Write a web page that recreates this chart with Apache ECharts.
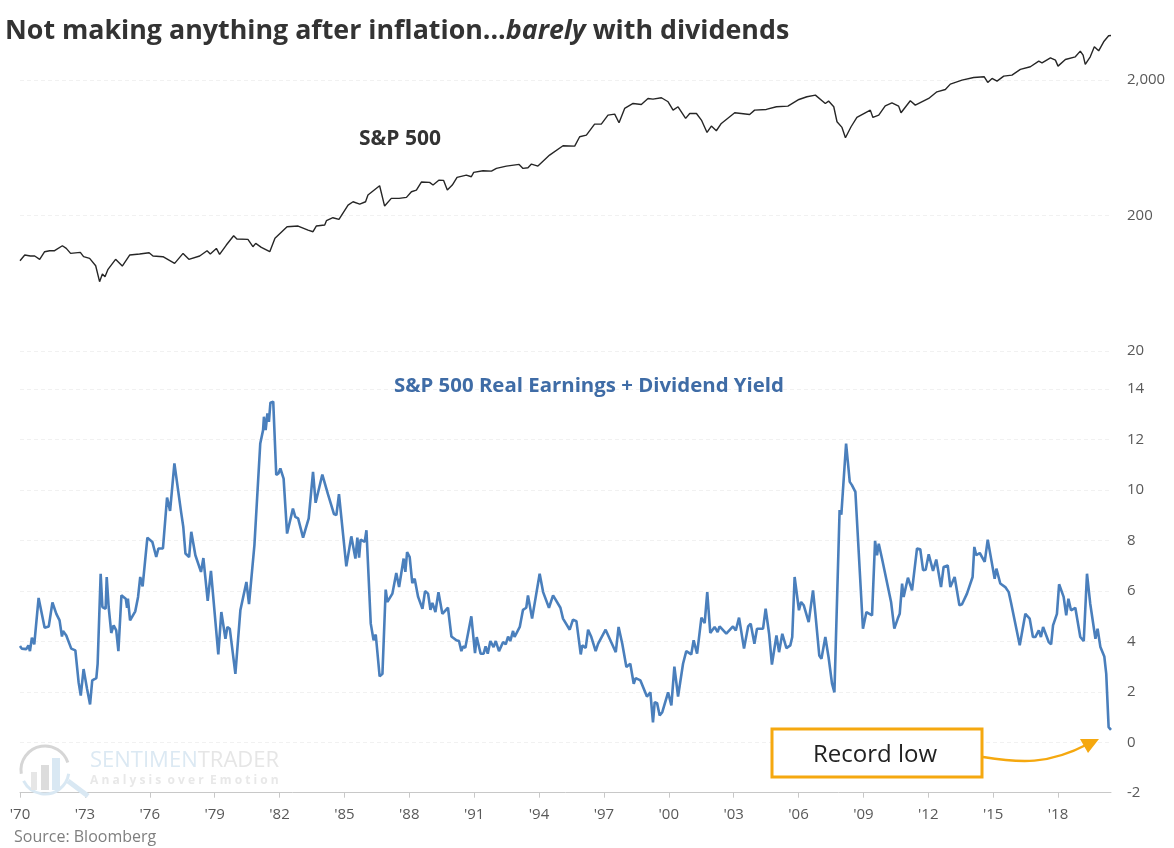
<!DOCTYPE html>
<html>
<head>
<meta charset="utf-8">
<title>S&amp;P 500 real earnings</title>
<script src="https://cdn.jsdelivr.net/npm/echarts@6/dist/echarts.min.js"></script>
<style>
html,body{margin:0;padding:0;background:#fff;}
#main{width:1174px;height:848px;}
</style>
</head>
<body>
<div id="main"></div>
<script>
// x values are years since 1970
var xTicks = [0,3,6,9,12,15,18,21,24,27,30,33,36,39,42,45,48];
var xTickLabels = ["'70","'73","'76","'79","'82","'85","'88","'91","'94","'97","'00","'03","'06","'09","'12","'15","'18"];
var priceTicks = [20,200,2000];

var spxYears = [0,.22,.29,.48,.68,.91,1.14,1.37,1.60,1.96,2.14,2.34,2.79,2.94,3.22,3.50,3.68,3.81,3.93,4.07,4.42,4.73,5.07,5.53,5.97,6.15,6.61,7.15,7.54,7.81,8.31,8.65,8.80,9.08,9.23,9.54,9.88,10.03,10.54,10.77,10.90,11.16,11.55,11.79,12.35,12.86,13.32,13.55,13.70,14.09,14.17,14.47,14.75,15.17,15.40,15.71,15.98,16.09,16.63,16.86,17.17,17.53,
17.87,18.10,18.33,18.56,18.94,19.10,19.38,19.59,19.76,19.99,20.21,20.64,20.87,20.98,21.41,21.80,22.03,22.49,23.08,23.26,23.49,23.65,23.95,24.49,25.11,25.65,25.88,26.19,26.57,26.88,27.19,27.50,27.70,27.96,28.35,28.73,29.04,29.27,29.66,29.97,30.20,30.43,30.78,30.97,31.28,31.51,31.77,31.97,32.20,32.43,33.05,33.74,33.97,34.51,34.98,35.51,36.02,
36.39,36.78,37.24,37.39,37.63,37.78,38.01,38.17,38.43,38.70,39.32,39.44,39.71,40.01,40.32,40.63,40.74,41.17,41.40,42.02,42.40,42.79,43.02,43.56,44.10,44.59,44.75,44.95,45.18,45.49,45.87,46.26,46.72,47.11,47.26,47.65,47.88,48.00,48.34,48.42,48.80,49.03,49.16,49.26,49.49,49.68,49.88,50.11,50.34,50.45];
var spxValues = [92.7,102,104.9,100.3,100.3,94.8,107.9,109.8,109.8,119.5,114.2,104.9,106.7,99.2,96.4,85.1,64.9,73.9,70.6,80,94.8,84.6,102,103.8,106.1,100.3,99.2,88.6,104.9,94.8,100.3,109.8,103.8,114.2,103.2,120.9,141.6,133.8,133.1,117.5,124.4,116.2,107.9,135.4,165,166.9,155.9,151.6,166.9,169.7,182.7,192.2,186.9,238.3,252.2,242.4,252.2,282.4,330.9,234.3,266.9,266.9,
271.5,298.9,307.5,352.2,350.2,334.7,364.3,362.2,307.5,334.7,381.2,396.6,385.5,414.9,426.8,424.4,444.1,462,475.3,444.1,449.2,478,462,556.9,652.5,648.8,760.2,782,942.5,942.5,1098,1117,964,1230,1338,1316,1457,1441,1474,1377,1195,1265,1038,1129,1129,1009,818,911,842,953,1142,1110,1195,1209,1265,1279,1432,
1499,1542,1338,1393,1265,981,891,747,901,1055,1195,1055,1098,1286,1354,1279,1142,1401,1301,1457,1631,1697,1858,1989,2081,2104,1911,2046,1955,2128,2165,2384,2494,2745,2669,2905,2793,2522,2824,2745,2955,3253,3040,2595,2955,3502,3272,3812,4220,4244];

var realYears = [0,.08,.29,.39,.46,.55,.66,.86,1.14,1.33,1.50,1.68,1.83,1.94,1.99,2.14,2.37,2.56,2.71,2.81,2.94,3.10,3.24,3.34,3.53,3.59,3.73,3.81,3.96,4.01,4.10,4.22,4.33,4.45,4.55,4.69,4.89,4.95,4.99,5.09,5.33,5.46,5.56,5.67,5.89,6.12,6.30,6.40,6.61,6.80,6.94,7.14,7.21,7.46,7.55,7.65,7.82,7.92,8.00,8.11,8.37,8.48,8.68,8.83,9.17,9.31,9.50,9.59,9.70,9.96,10.19,10.47,10.59,10.84,10.93,11.11,11.24,11.28,11.36,11.44,11.51,11.58,11.71,11.85,11.95,12.04,12.19,12.35,12.62,12.73,12.86,13.09,13.35,13.55,13.67,13.98,14.24,14.32,14.52,14.63,14.75,15.09,15.32,15.51,15.60,15.68,15.75,15.94,16.02,16.22,16.35,16.45,16.63,16.76,16.91,16.99,17.22,17.40,17.53,
17.74,17.82,17.90,18.02,18.14,18.25,18.41,18.61,18.73,18.87,18.98,19.07,19.21,19.35,19.53,19.79,19.95,20.18,20.30,20.41,20.49,20.59,20.87,21.04,21.12,21.30,21.44,21.53,21.63,21.75,21.90,22.00,22.15,22.34,22.46,22.57,22.67,22.80,22.87,23.11,23.26,23.41,23.49,23.68,24.03,24.19,24.28,24.46,24.65,24.99,25.11,25.42,25.57,25.73,25.93,26.00,26.16,26.27,26.42,26.62,26.73,27.08,27.55,27.68,27.85,28.04,28.22,28.38,28.47,28.69,28.99,29.15,29.27,29.35,29.46,29.58,29.70,29.97,30.12,30.26,30.43,30.66,30.81,31.04,31.15,31.31,31.51,31.66,31.78,31.92,32.12,32.26,32.35,32.66,32.97,33.10,33.25,33.48,33.67,33.79,33.96,34.08,34.36,34.48,34.64,34.77,34.98,35.10,35.25,35.44,35.62,35.71,35.82,36.02,
36.12,36.24,36.47,36.67,36.78,36.96,37.06,37.24,37.39,37.55,37.66,37.73,37.90,37.98,38.06,38.20,38.37,38.47,38.63,38.98,39.14,39.40,39.54,39.63,39.71,39.86,39.94,40.28,40.43,40.59,40.68,40.79,40.86,41.06,41.25,41.48,41.63,41.76,41.88,42.02,42.22,42.37,42.59,42.71,42.90,43.02,43.22,43.44,43.56,43.79,43.87,44.05,44.13,44.22,44.38,44.61,44.75,45.07,45.15,45.33,45.56,45.72,45.83,45.92,46.23,46.49,46.69,46.84,46.95,47.11,47.21,47.31,47.57,47.68,47.77,47.95,48.05,48.26,48.38,48.48,48.60,48.80,49.03,49.19,49.34,49.42,49.49,49.73,49.83,49.96,50.14,50.23,50.34,50.45];
var realValues = [3.81,3.71,3.69,3.84,3.61,4.14,3.88,5.72,4.54,4.59,5.54,5.09,4.83,4.19,4.41,4.23,3.71,3.64,2.38,1.85,2.90,2.12,1.50,2.45,2.54,3.11,6.68,5.36,5.29,6.55,5.36,4.33,4.63,4.43,3.61,5.82,5.69,5.33,5.69,4.83,5.19,5.76,6.55,6.18,8.11,7.94,7.34,7.68,7.68,9.70,9.17,11.05,11.05,9.06,8.54,7.48,7.34,8.34,8.34,7.41,6.75,7.30,5.60,6.79,3.48,5.16,4.10,4.57,4.50,2.71,5.23,6.35,5.47,7.81,7.87,11.84,12.37,12.90,12.37,13.03,12.70,13.46,13.50,10.59,10.65,10.85,10.45,8.27,9.26,8.93,8.87,8.11,8.87,10.72,9.49,10.61,9.83,9.83,9.04,9.00,9.83,6.97,8.16,7.28,8.11,7.32,8.03,7.94,8.40,4.70,4.04,4.27,2.61,2.71,6.05,5.56,5.89,6.71,6.15,
7.28,6.75,7.54,7.34,6.31,6.48,5.76,5.29,5.99,5.89,5.25,5.52,5.16,5.95,5.09,5.33,4.19,4.04,4.01,3.61,3.80,3.74,4.99,3.53,4.17,3.51,3.51,3.80,3.51,4.01,3.77,4.01,3.61,3.97,3.88,4.19,4.01,4.41,4.17,4.57,5.25,5.33,5.82,4.90,6.68,5.95,6.02,5.33,5.82,5.33,4.90,4.46,4.86,4.80,3.48,3.84,3.74,4.46,4.17,3.61,3.90,4.46,3.57,4.57,3.90,2.98,3.11,2.32,2.54,2.45,1.81,1.98,0.79,1.59,1.55,1.06,1.19,1.98,1.46,3.00,1.81,3.11,3.61,3.48,4.04,3.51,4.94,4.72,5.95,4.33,4.57,4.37,4.59,4.30,4.59,4.43,4.94,3.71,4.59,4.70,3.90,4.50,4.50,5.29,4.30,3.08,4.23,3.57,4.30,3.73,3.84,4.17,6.55,5.23,
5.56,5.43,4.76,6.02,5.09,3.44,3.31,4.17,3.37,2.32,1.98,2.05,9.20,9.02,9.06,11.84,10.32,10.19,9.92,4.50,5.16,5.03,7.98,7.41,7.87,7.28,7.34,5.56,4.50,4.90,5.09,6.29,5.76,6.52,6.02,7.68,7.65,6.82,6.84,7.45,6.79,7.24,6.15,6.95,7.01,6.15,6.55,5.43,5.47,5.89,5.82,6.55,7.74,7.41,7.50,7.15,8.03,6.48,6.88,6.29,6.15,5.95,5.52,5.47,3.84,5.09,4.90,4.17,4.17,4.43,4.17,4.57,3.97,3.88,4.63,5.09,6.26,5.76,5.03,5.69,5.23,5.33,4.17,4.01,6.68,6.68,5.49,4.10,4.50,3.77,3.40,2.71,0.60,0.49];

function pairs(xs,ys){
	var out = [];
	for(var i = 0; i < xs.length; i++){
		out.push([xs[i],ys[i]]);
	}
	return out;
}

var fontName = '"Open Sans", sans-serif';
var gridColor = '#f1f1f1';
var labelColor = '#595959';
var orange = '#f5a80f';

var option = {
	animation: false,
	backgroundColor: '#fff',
	textStyle: { fontFamily: fontName },
	title: {
		left: 5,
		top: 18,
		padding: 0,
		text: '{b|Not making anything after inflation...}{i|barely}{b| with dividends}',
		textStyle: {
			rich: {
				b: { fontFamily: fontName, fontSize: 26.8, fontWeight: 'bold', color: '#333' },
				i: { fontFamily: fontName, fontSize: 26.8, fontWeight: 'bold', fontStyle: 'italic', color: '#333' }
			}
		}
	},
	grid: [
		{ left: 20, right: 63, top: 30, height: 321 },
		{ left: 20, right: 63, top: 389, height: 403.7 }
	],
	xAxis: [
		{ type: 'value', gridIndex: 0, min: 0, max: 50.45, show: false, splitLine: { show: false } },
		{
			type: 'value',
			gridIndex: 1,
			min: 0,
			max: 50.45,
			splitLine: { show: false },
			axisLine: { onZero: false, lineStyle: { color: '#c8c8c8', width: 1 } },
			axisTick: { length: 5, customValues: xTicks, lineStyle: { color: '#c8c8c8' } },
			axisLabel: {
				customValues: xTicks,
				margin: 15,
				fontSize: 15,
				color: labelColor,
				formatter: function(v){ return xTickLabels[xTicks.indexOf(v)]; }
			}
		}
	],
	yAxis: [
		{
			type: 'log',
			gridIndex: 0,
			position: 'right',
			min: 20,
			max: 4658,
			axisLine: { show: false },
			axisTick: { show: false, customValues: priceTicks },
			splitLine: { show: true, lineStyle: { color: gridColor, type: [4,3] } },
			axisLabel: {
				customValues: priceTicks,
				margin: 16,
				fontSize: 15,
				color: labelColor,
				formatter: function(v){ return v >= 1000 ? '2,000' : String(v); }
			}
		},
		{
			type: 'value',
			gridIndex: 1,
			position: 'right',
			min: -2,
			max: 14,
			interval: 2,
			axisLine: { show: false },
			axisTick: { show: false },
			splitLine: { show: true, lineStyle: { color: gridColor, type: [4,3] } },
			axisLabel: { margin: 16, fontSize: 15, color: labelColor }
		}
	],
	series: [
		{
			name: 'S&P 500',
			type: 'line',
			xAxisIndex: 0,
			yAxisIndex: 0,
			data: pairs(spxYears,spxValues),
			showSymbol: false,
			lineStyle: { color: '#262626', width: 1.4 }
		},
		{
			name: 'S&P 500 Real Earnings + Dividend Yield',
			type: 'line',
			xAxisIndex: 1,
			yAxisIndex: 1,
			data: pairs(realYears,realValues),
			showSymbol: false,
			lineStyle: { color: '#4a7fbc', width: 2.6 }
		}
	],
	graphic: [
		// 系列标注
		{ type: 'text', z: 10, left: 359, top: 129, style: { text: 'S&P 500', font: 'bold 21px ' + fontName, fill: '#333' } },
		{ type: 'text', z: 10, left: 394, top: 376, style: { text: 'S&P 500 Real Earnings + Dividend Yield', font: 'bold 20.4px ' + fontName, fill: '#3f6ca6' } },

		// Record low 框和箭头
		{ type: 'rect', z: 10, shape: { x: 772, y: 729, width: 210, height: 48 }, style: { fill: '#fff', stroke: orange, lineWidth: 3 } },
		{ type: 'text', z: 11, left: 813, top: 743, style: { text: 'Record low', font: '24px ' + fontName, fill: '#222' } },
		{ type: 'bezierCurve', z: 10, shape: { x1: 983, y1: 757, cpx1: 1020, cpy1: 763, cpx2: 1048, cpy2: 765, x2: 1088, y2: 744 }, style: { fill: 'none', stroke: orange, lineWidth: 2.4 } },
		{ type: 'polygon', z: 10, shape: { points: [[1080,739],[1099,739],[1088,753]] }, style: { fill: orange } },

		// 水印
		{ type: 'arc', z: 1, shape: { cx: 45, cy: 770, r: 24, startAngle: Math.PI * 0.95, endAngle: Math.PI * 1.9 }, style: { fill: 'none', stroke: '#d6d6d6', lineWidth: 3 } },
		{ type: 'arc', z: 1, shape: { cx: 45, cy: 770, r: 24, startAngle: Math.PI * 0.05, endAngle: Math.PI * 0.85 }, style: { fill: 'none', stroke: '#d9e8f3', lineWidth: 3 } },
		{ type: 'rect', z: 1, shape: { x: 31, y: 772, width: 6, height: 18 }, style: { fill: '#e6e6e6' } },
		{ type: 'rect', z: 1, shape: { x: 41, y: 765, width: 8, height: 25 }, style: { fill: '#dcdcdc' } },
		{ type: 'rect', z: 1, shape: { x: 52, y: 758, width: 8, height: 32 }, style: { fill: '#d9e8f3' } },
		{ type: 'line', z: 1, shape: { x1: 68, y1: 781, x2: 88, y2: 796 }, style: { stroke: '#d9e8f3', lineWidth: 5 } },
		{ type: 'text', z: 1, left: 90, top: 750, style: { rich: { a: { font: '22px ' + fontName, fill: '#dce9f3' }, b: { font: '22px ' + fontName, fill: '#e6e6e6' } }, text: '{a|SENTIMEN}{b|TRADER}' } },
		{ type: 'text', z: 1, left: 90, top: 775, style: { text: 'A n a l y s i s  o v e r  E m o t i o n', font: 'bold 12px ' + fontName, fill: '#e8e8e8' } },

		{ type: 'text', left: 14, top: 829, style: { text: 'Source: Bloomberg', font: '16px ' + fontName, fill: '#7f7f7f' } }
	]
};

var myChart = echarts.init(document.getElementById('main'));
myChart.setOption(option);
</script>
</body>
</html>
